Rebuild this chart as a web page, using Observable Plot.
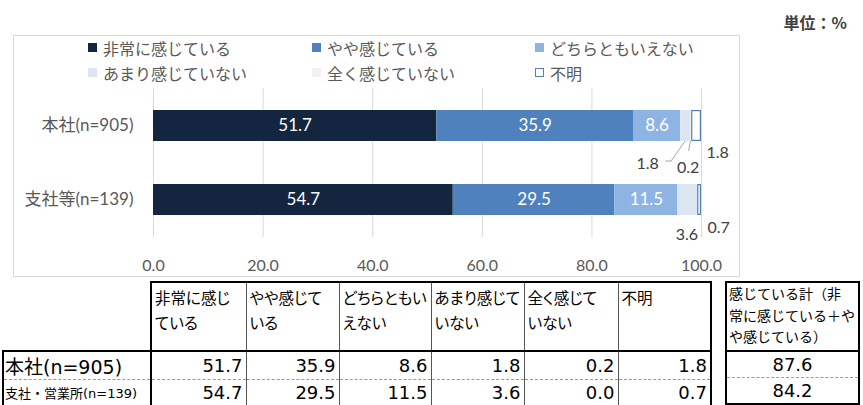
<!DOCTYPE html>
<html><head><meta charset="utf-8">
<script src="https://cdn.jsdelivr.net/npm/d3@7"></script>
<script src="https://cdn.jsdelivr.net/npm/@observablehq/plot@0.6"></script>
<style>
body{margin:0;background:#fff;}
#wrap{position:relative;width:863px;height:405px;overflow:hidden;background:#fff;font-family:"Noto Sans CJK JP",sans-serif;}
#frame{position:absolute;left:13px;top:35px;width:727px;height:242px;border:1px solid #d9d9d9;box-sizing:border-box;}
#chart{position:absolute;left:0;top:0;}
.leg{position:absolute;font-size:16px;color:#595959;line-height:20px;white-space:nowrap;}
.leg .sw{position:absolute;left:0;top:5px;width:9px;height:9px;box-sizing:border-box;}
.leg span.t{position:absolute;left:15px;top:0;}
#unit{position:absolute;right:16px;top:11px;font-size:16px;font-weight:bold;color:#404040;line-height:22px;}
table{position:absolute;border-collapse:collapse;table-layout:fixed;font-family:"DejaVu Sans","Noto Sans CJK JP",sans-serif;color:#000;}
td{padding:0;overflow:hidden;white-space:nowrap;}
td.h{vertical-align:top;font-family:"Noto Sans CJK JP",sans-serif;font-feature-settings:"palt";font-size:15.5px;line-height:25px;padding-left:3px;padding-top:2px;border-top:2px solid #000;border-bottom:2px solid #000;border-left:1px solid #555;border-right:1px solid #555;}
td.v{text-align:right;font-size:18px;padding-right:3px;border-left:1px solid #555;border-right:1px solid #555;}
td.lab{border-left:2px solid #000;border-right:2px solid #000;padding-left:1px;}
tr.r1 td{border-bottom:1px dashed #999;}
tr.r2 td{border-bottom:2px solid #000;}
</style>
</head><body>
<div id="wrap">
  <div id="frame"></div>
  <div id="chart"></div>
  <div id="unit">単位：%</div>
</div>
<script>
// ---- data ----
const groups = ["本社(n=905)", "支社等(n=139)"];
const categories = ["非常に感じている", "やや感じている", "どちらともいえない", "あまり感じていない", "全く感じていない", "不明"];
const honsha = [51.7, 35.9, 8.6, 1.8, 0.2, 1.8];
const shisha = [54.7, 29.5, 11.5, 3.6, 0.0, 0.7];
const colors = ["#14253f", "#4f81bd", "#8eb4e3", "#dce6f2", "#f2f2f2", "#ffffff"];
const xTicks = [0, 20, 40, 60, 80, 100];
const tableRowLabels = ["本社(n=905)", "支社・営業所(n=139)"];
const tableHeaders = ["非常に感じ\nている", "やや感じて\nいる", "どちらともい\nえない", "あまり感じて\nいない", "全く感じて\nいない", "不明"];
const totalHeader = "感じている計（非\n常に感じている＋や\nや感じている）";
const totals = [87.6, 84.2];

const series = [honsha, shisha];
const data = groups.flatMap((g, gi) => categories.map((c, ci) => ({group: g, cat: c, value: series[gi][ci]})));

const wrap = document.getElementById("wrap");

// ---- legend ----
const legCols = [88, 312, 535], legRows = [38, 63];
categories.forEach((c, i) => {
  const d = document.createElement("div");
  d.className = "leg";
  d.style.left = legCols[i % 3] + "px";
  d.style.top = legRows[Math.floor(i / 3)] + "px";
  const sw = document.createElement("div");
  sw.className = "sw";
  sw.style.background = colors[i];
  if (c === "不明") sw.style.border = "1.5px solid #4f81bd";
  const t = document.createElement("span");
  t.className = "t";
  t.textContent = c;
  d.appendChild(sw); d.appendChild(t);
  wrap.appendChild(d);
});

// ---- chart ----
const fmt = d => d.value.toFixed(1);
const outside = (gi, ci, dx, dy) => Plot.text(data, Plot.filter(d => d.group === groups[gi] && d.cat === categories[ci],
  Plot.stackX({x: "value", y: "group", text: fmt, dx, dy, fill: "#404040", fontSize: 16})));

function leaders(index, scales) {
  const {x, y} = scales;
  const bw = typeof y.bandwidth === "function" ? y.bandwidth() : 31;
  const cum = d3.cumsum(honsha);
  const mid = ci => cum[ci] - honsha[ci] / 2;
  const yb = y(groups[0]) + bw;
  const g = d3.create("svg:g").attr("fill", "none").attr("stroke", "#a6a6a6").attr("stroke-width", 1);
  const a = x(mid(3)), b = x(mid(4));
  g.append("path").attr("d", `M${a},${yb}L${a - 14},${yb + 20}h-6`);
  g.append("path").attr("d", `M${b},${yb}L${b - 2},${yb + 10}`);
  return g.node();
}

const plot = Plot.plot({
  width: 863, height: 280,
  marginTop: 88, marginBottom: 43, marginLeft: 153, marginRight: 162,
  style: {background: "transparent", color: "#595959", fontFamily: "Lato, 'Noto Sans CJK JP', sans-serif", overflow: "visible"},
  x: {domain: [0, 100], label: null},
  y: {domain: groups, paddingInner: 0.584, paddingOuter: 0.295, label: null},
  color: {domain: categories, range: colors},
  marks: [
    Plot.gridX(xTicks, {stroke: "#d9d9d9", strokeOpacity: 1}),
    Plot.barX(data, Plot.stackX({x: "value", y: "group", fill: "cat"})),
    Plot.barX(data, Plot.filter(d => d.cat === "不明", Plot.stackX({x: "value", y: "group", fill: "none", stroke: "#4f81bd", strokeWidth: 1.2, inset: 0.6}))),
    Plot.text(data, Plot.filter(d => d.value >= 5, Plot.stackX({x: "value", y: "group", text: fmt, fill: "white", fontSize: 17}))),
    outside(0, 3, -38, 37.5),
    outside(0, 4, -3, 41.5),
    outside(0, 5, 21, 26.5),
    outside(1, 3, -1, 35),
    outside(1, 5, 19, 28),
    leaders,
    Plot.axisX({ticks: xTicks, tickFormat: d => d.toFixed(1), tickSize: 0, tickPadding: 22, fontSize: 16, label: null}),
    Plot.axisY({tickSize: 0, tickPadding: 20, fontSize: 17, label: null})
  ]
});
document.getElementById("chart").appendChild(plot);

// ---- tables ----
function mkTable(left, widths, headers, rows, isMain) {
  const t = document.createElement("table");
  t.style.left = left + "px";
  t.style.top = "281px";
  const cg = document.createElement("colgroup");
  widths.forEach(w => { const c = document.createElement("col"); c.style.width = w + "px"; cg.appendChild(c); });
  t.appendChild(cg);
  t.style.width = d3.sum(widths) + "px";
  const hr = document.createElement("tr");
  hr.style.height = "69px";
  headers.forEach((h, i) => {
    const td = document.createElement("td");
    if (h === null) { td.style.borderBottom = "2px solid #000"; td.style.borderRight = "2px solid #000"; }
    else {
      td.className = "h";
      td.innerHTML = h.split("\n").join("<br>");
      if (i === headers.length - 1) td.style.borderRight = "2px solid #000";
      if (i === 0) td.style.borderLeft = "2px solid #000";
      if (!isMain) { td.style.fontSize = "14px"; td.style.lineHeight = "21.5px"; td.style.paddingTop = "0px"; td.style.paddingLeft = "2px"; td.style.fontFeatureSettings = "normal"; }
    }
    hr.appendChild(td);
  });
  t.appendChild(hr);
  rows.forEach((r, ri) => {
    const tr = document.createElement("tr");
    tr.className = ri === 0 ? "r1" : "r2";
    tr.style.height = ri === 0 ? "26px" : "27px";
    r.forEach((v, i) => {
      const td = document.createElement("td");
      if (isMain && i === 0) {
        td.className = "lab";
        td.textContent = v;
        td.style.fontSize = ri === 0 ? "19px" : "13px";
      } else {
        td.className = "v";
        td.textContent = v.toFixed(1);
        if (!isMain) { td.style.textAlign = "center"; td.style.borderLeft = "2px solid #000"; td.style.paddingRight = "0"; }
        if (i === r.length - 1) td.style.borderRight = "2px solid #000";
      }
      tr.appendChild(td);
    });
    t.appendChild(tr);
  });
  wrap.appendChild(t);
}
mkTable(2, [148, 95, 93, 92, 93, 94, 93], [null, ...tableHeaders],
  tableRowLabels.map((l, i) => [l, ...series[i]]), true);
mkTable(725, [133], [totalHeader], totals.map(v => [v]), false);
</script>
</body></html>
